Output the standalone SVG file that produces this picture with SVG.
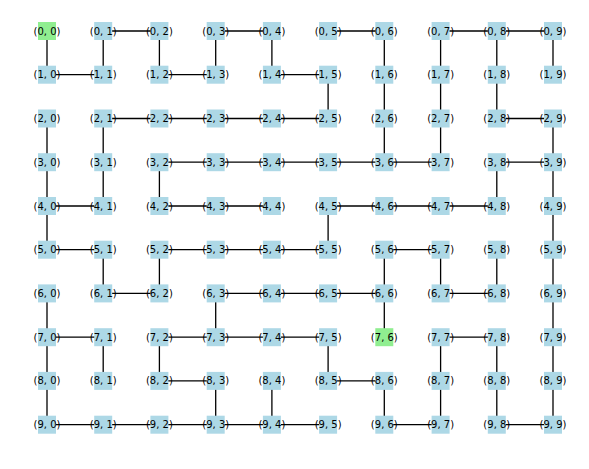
<svg xmlns="http://www.w3.org/2000/svg" width="589" height="469" viewBox="0 0 589 469">
<style>
.e line{stroke:#000;stroke-width:1.3}
.n rect{fill:#add8e6}
.n.g rect{fill:#90ee90}
.n text{font-family:"DejaVu Sans",sans-serif;font-size:10px;fill:#000;text-anchor:middle;dominant-baseline:central}
</style>
<rect width="589" height="469" fill="#fff"/>
<g id="edges" class="e">
<line x1="103.2" y1="31" x2="159.4" y2="31"/><line x1="215.7" y1="31" x2="271.9" y2="31"/><line x1="328.1" y1="31" x2="384.3" y2="31"/><line x1="440.6" y1="31" x2="496.8" y2="31"/><line x1="496.8" y1="31" x2="553" y2="31"/>
<line x1="47" y1="74.7" x2="103.2" y2="74.7"/><line x1="159.4" y1="74.7" x2="215.7" y2="74.7"/><line x1="271.9" y1="74.7" x2="328.1" y2="74.7"/>
<line x1="103.2" y1="118.5" x2="159.4" y2="118.5"/><line x1="159.4" y1="118.5" x2="215.7" y2="118.5"/><line x1="215.7" y1="118.5" x2="271.9" y2="118.5"/><line x1="271.9" y1="118.5" x2="328.1" y2="118.5"/><line x1="496.8" y1="118.5" x2="553" y2="118.5"/>
<line x1="159.4" y1="162.2" x2="215.7" y2="162.2"/><line x1="215.7" y1="162.2" x2="271.9" y2="162.2"/><line x1="271.9" y1="162.2" x2="328.1" y2="162.2"/><line x1="328.1" y1="162.2" x2="384.3" y2="162.2"/><line x1="384.3" y1="162.2" x2="440.6" y2="162.2"/><line x1="496.8" y1="162.2" x2="553" y2="162.2"/>
<line x1="47" y1="206" x2="103.2" y2="206"/><line x1="159.4" y1="206" x2="215.7" y2="206"/><line x1="215.7" y1="206" x2="271.9" y2="206"/><line x1="328.1" y1="206" x2="384.3" y2="206"/><line x1="384.3" y1="206" x2="440.6" y2="206"/><line x1="440.6" y1="206" x2="496.8" y2="206"/>
<line x1="47" y1="249.7" x2="103.2" y2="249.7"/><line x1="159.4" y1="249.7" x2="215.7" y2="249.7"/><line x1="215.7" y1="249.7" x2="271.9" y2="249.7"/><line x1="271.9" y1="249.7" x2="328.1" y2="249.7"/><line x1="384.3" y1="249.7" x2="440.6" y2="249.7"/>
<line x1="103.2" y1="293.4" x2="159.4" y2="293.4"/><line x1="215.7" y1="293.4" x2="271.9" y2="293.4"/><line x1="271.9" y1="293.4" x2="328.1" y2="293.4"/><line x1="328.1" y1="293.4" x2="384.3" y2="293.4"/><line x1="440.6" y1="293.4" x2="496.8" y2="293.4"/>
<line x1="47" y1="337.2" x2="103.2" y2="337.2"/><line x1="159.4" y1="337.2" x2="215.7" y2="337.2"/><line x1="215.7" y1="337.2" x2="271.9" y2="337.2"/><line x1="271.9" y1="337.2" x2="328.1" y2="337.2"/><line x1="440.6" y1="337.2" x2="496.8" y2="337.2"/>
<line x1="159.4" y1="380.9" x2="215.7" y2="380.9"/><line x1="328.1" y1="380.9" x2="384.3" y2="380.9"/>
<line x1="47" y1="424.7" x2="103.2" y2="424.7"/><line x1="103.2" y1="424.7" x2="159.4" y2="424.7"/><line x1="159.4" y1="424.7" x2="215.7" y2="424.7"/><line x1="215.7" y1="424.7" x2="271.9" y2="424.7"/><line x1="271.9" y1="424.7" x2="328.1" y2="424.7"/><line x1="384.3" y1="424.7" x2="440.6" y2="424.7"/><line x1="496.8" y1="424.7" x2="553" y2="424.7"/>
<line x1="47" y1="31" x2="47" y2="74.7"/><line x1="47" y1="118.5" x2="47" y2="162.2"/><line x1="47" y1="162.2" x2="47" y2="206"/><line x1="47" y1="206" x2="47" y2="249.7"/><line x1="47" y1="293.4" x2="47" y2="337.2"/><line x1="47" y1="337.2" x2="47" y2="380.9"/><line x1="47" y1="380.9" x2="47" y2="424.7"/>
<line x1="103.2" y1="31" x2="103.2" y2="74.7"/><line x1="103.2" y1="118.5" x2="103.2" y2="162.2"/><line x1="103.2" y1="162.2" x2="103.2" y2="206"/><line x1="103.2" y1="249.7" x2="103.2" y2="293.4"/><line x1="103.2" y1="337.2" x2="103.2" y2="380.9"/>
<line x1="159.4" y1="31" x2="159.4" y2="74.7"/><line x1="159.4" y1="162.2" x2="159.4" y2="206"/><line x1="159.4" y1="249.7" x2="159.4" y2="293.4"/><line x1="159.4" y1="337.2" x2="159.4" y2="380.9"/>
<line x1="215.7" y1="31" x2="215.7" y2="74.7"/><line x1="215.7" y1="293.4" x2="215.7" y2="337.2"/><line x1="215.7" y1="380.9" x2="215.7" y2="424.7"/>
<line x1="271.9" y1="31" x2="271.9" y2="74.7"/><line x1="271.9" y1="380.9" x2="271.9" y2="424.7"/>
<line x1="328.1" y1="74.7" x2="328.1" y2="118.5"/><line x1="328.1" y1="206" x2="328.1" y2="249.7"/><line x1="328.1" y1="337.2" x2="328.1" y2="380.9"/>
<line x1="384.3" y1="31" x2="384.3" y2="74.7"/><line x1="384.3" y1="74.7" x2="384.3" y2="118.5"/><line x1="384.3" y1="118.5" x2="384.3" y2="162.2"/><line x1="384.3" y1="249.7" x2="384.3" y2="293.4"/><line x1="384.3" y1="293.4" x2="384.3" y2="337.2"/><line x1="384.3" y1="380.9" x2="384.3" y2="424.7"/>
<line x1="440.6" y1="31" x2="440.6" y2="74.7"/><line x1="440.6" y1="74.7" x2="440.6" y2="118.5"/><line x1="440.6" y1="118.5" x2="440.6" y2="162.2"/><line x1="440.6" y1="249.7" x2="440.6" y2="293.4"/><line x1="440.6" y1="337.2" x2="440.6" y2="380.9"/><line x1="440.6" y1="380.9" x2="440.6" y2="424.7"/>
<line x1="496.8" y1="31" x2="496.8" y2="74.7"/><line x1="496.8" y1="74.7" x2="496.8" y2="118.5"/><line x1="496.8" y1="162.2" x2="496.8" y2="206"/><line x1="496.8" y1="249.7" x2="496.8" y2="293.4"/><line x1="496.8" y1="337.2" x2="496.8" y2="380.9"/><line x1="496.8" y1="380.9" x2="496.8" y2="424.7"/>
<line x1="553" y1="31" x2="553" y2="74.7"/><line x1="553" y1="118.5" x2="553" y2="162.2"/><line x1="553" y1="162.2" x2="553" y2="206"/><line x1="553" y1="206" x2="553" y2="249.7"/><line x1="553" y1="249.7" x2="553" y2="293.4"/><line x1="553" y1="293.4" x2="553" y2="337.2"/><line x1="553" y1="337.2" x2="553" y2="380.9"/><line x1="553" y1="380.9" x2="553" y2="424.7"/>
</g>
<g id="n0-0" class="n g" transform="translate(47,31)"><rect x="-9" y="-9" width="18" height="18"/><text>(0, 0)</text></g>
<g id="n0-1" class="n" transform="translate(103.2,31)"><rect x="-9" y="-9" width="18" height="18"/><text>(0, 1)</text></g>
<g id="n0-2" class="n" transform="translate(159.4,31)"><rect x="-9" y="-9" width="18" height="18"/><text>(0, 2)</text></g>
<g id="n0-3" class="n" transform="translate(215.7,31)"><rect x="-9" y="-9" width="18" height="18"/><text>(0, 3)</text></g>
<g id="n0-4" class="n" transform="translate(271.9,31)"><rect x="-9" y="-9" width="18" height="18"/><text>(0, 4)</text></g>
<g id="n0-5" class="n" transform="translate(328.1,31)"><rect x="-9" y="-9" width="18" height="18"/><text>(0, 5)</text></g>
<g id="n0-6" class="n" transform="translate(384.3,31)"><rect x="-9" y="-9" width="18" height="18"/><text>(0, 6)</text></g>
<g id="n0-7" class="n" transform="translate(440.6,31)"><rect x="-9" y="-9" width="18" height="18"/><text>(0, 7)</text></g>
<g id="n0-8" class="n" transform="translate(496.8,31)"><rect x="-9" y="-9" width="18" height="18"/><text>(0, 8)</text></g>
<g id="n0-9" class="n" transform="translate(553,31)"><rect x="-9" y="-9" width="18" height="18"/><text>(0, 9)</text></g>
<g id="n1-0" class="n" transform="translate(47,74.7)"><rect x="-9" y="-9" width="18" height="18"/><text>(1, 0)</text></g>
<g id="n1-1" class="n" transform="translate(103.2,74.7)"><rect x="-9" y="-9" width="18" height="18"/><text>(1, 1)</text></g>
<g id="n1-2" class="n" transform="translate(159.4,74.7)"><rect x="-9" y="-9" width="18" height="18"/><text>(1, 2)</text></g>
<g id="n1-3" class="n" transform="translate(215.7,74.7)"><rect x="-9" y="-9" width="18" height="18"/><text>(1, 3)</text></g>
<g id="n1-4" class="n" transform="translate(271.9,74.7)"><rect x="-9" y="-9" width="18" height="18"/><text>(1, 4)</text></g>
<g id="n1-5" class="n" transform="translate(328.1,74.7)"><rect x="-9" y="-9" width="18" height="18"/><text>(1, 5)</text></g>
<g id="n1-6" class="n" transform="translate(384.3,74.7)"><rect x="-9" y="-9" width="18" height="18"/><text>(1, 6)</text></g>
<g id="n1-7" class="n" transform="translate(440.6,74.7)"><rect x="-9" y="-9" width="18" height="18"/><text>(1, 7)</text></g>
<g id="n1-8" class="n" transform="translate(496.8,74.7)"><rect x="-9" y="-9" width="18" height="18"/><text>(1, 8)</text></g>
<g id="n1-9" class="n" transform="translate(553,74.7)"><rect x="-9" y="-9" width="18" height="18"/><text>(1, 9)</text></g>
<g id="n2-0" class="n" transform="translate(47,118.5)"><rect x="-9" y="-9" width="18" height="18"/><text>(2, 0)</text></g>
<g id="n2-1" class="n" transform="translate(103.2,118.5)"><rect x="-9" y="-9" width="18" height="18"/><text>(2, 1)</text></g>
<g id="n2-2" class="n" transform="translate(159.4,118.5)"><rect x="-9" y="-9" width="18" height="18"/><text>(2, 2)</text></g>
<g id="n2-3" class="n" transform="translate(215.7,118.5)"><rect x="-9" y="-9" width="18" height="18"/><text>(2, 3)</text></g>
<g id="n2-4" class="n" transform="translate(271.9,118.5)"><rect x="-9" y="-9" width="18" height="18"/><text>(2, 4)</text></g>
<g id="n2-5" class="n" transform="translate(328.1,118.5)"><rect x="-9" y="-9" width="18" height="18"/><text>(2, 5)</text></g>
<g id="n2-6" class="n" transform="translate(384.3,118.5)"><rect x="-9" y="-9" width="18" height="18"/><text>(2, 6)</text></g>
<g id="n2-7" class="n" transform="translate(440.6,118.5)"><rect x="-9" y="-9" width="18" height="18"/><text>(2, 7)</text></g>
<g id="n2-8" class="n" transform="translate(496.8,118.5)"><rect x="-9" y="-9" width="18" height="18"/><text>(2, 8)</text></g>
<g id="n2-9" class="n" transform="translate(553,118.5)"><rect x="-9" y="-9" width="18" height="18"/><text>(2, 9)</text></g>
<g id="n3-0" class="n" transform="translate(47,162.2)"><rect x="-9" y="-9" width="18" height="18"/><text>(3, 0)</text></g>
<g id="n3-1" class="n" transform="translate(103.2,162.2)"><rect x="-9" y="-9" width="18" height="18"/><text>(3, 1)</text></g>
<g id="n3-2" class="n" transform="translate(159.4,162.2)"><rect x="-9" y="-9" width="18" height="18"/><text>(3, 2)</text></g>
<g id="n3-3" class="n" transform="translate(215.7,162.2)"><rect x="-9" y="-9" width="18" height="18"/><text>(3, 3)</text></g>
<g id="n3-4" class="n" transform="translate(271.9,162.2)"><rect x="-9" y="-9" width="18" height="18"/><text>(3, 4)</text></g>
<g id="n3-5" class="n" transform="translate(328.1,162.2)"><rect x="-9" y="-9" width="18" height="18"/><text>(3, 5)</text></g>
<g id="n3-6" class="n" transform="translate(384.3,162.2)"><rect x="-9" y="-9" width="18" height="18"/><text>(3, 6)</text></g>
<g id="n3-7" class="n" transform="translate(440.6,162.2)"><rect x="-9" y="-9" width="18" height="18"/><text>(3, 7)</text></g>
<g id="n3-8" class="n" transform="translate(496.8,162.2)"><rect x="-9" y="-9" width="18" height="18"/><text>(3, 8)</text></g>
<g id="n3-9" class="n" transform="translate(553,162.2)"><rect x="-9" y="-9" width="18" height="18"/><text>(3, 9)</text></g>
<g id="n4-0" class="n" transform="translate(47,206)"><rect x="-9" y="-9" width="18" height="18"/><text>(4, 0)</text></g>
<g id="n4-1" class="n" transform="translate(103.2,206)"><rect x="-9" y="-9" width="18" height="18"/><text>(4, 1)</text></g>
<g id="n4-2" class="n" transform="translate(159.4,206)"><rect x="-9" y="-9" width="18" height="18"/><text>(4, 2)</text></g>
<g id="n4-3" class="n" transform="translate(215.7,206)"><rect x="-9" y="-9" width="18" height="18"/><text>(4, 3)</text></g>
<g id="n4-4" class="n" transform="translate(271.9,206)"><rect x="-9" y="-9" width="18" height="18"/><text>(4, 4)</text></g>
<g id="n4-5" class="n" transform="translate(328.1,206)"><rect x="-9" y="-9" width="18" height="18"/><text>(4, 5)</text></g>
<g id="n4-6" class="n" transform="translate(384.3,206)"><rect x="-9" y="-9" width="18" height="18"/><text>(4, 6)</text></g>
<g id="n4-7" class="n" transform="translate(440.6,206)"><rect x="-9" y="-9" width="18" height="18"/><text>(4, 7)</text></g>
<g id="n4-8" class="n" transform="translate(496.8,206)"><rect x="-9" y="-9" width="18" height="18"/><text>(4, 8)</text></g>
<g id="n4-9" class="n" transform="translate(553,206)"><rect x="-9" y="-9" width="18" height="18"/><text>(4, 9)</text></g>
<g id="n5-0" class="n" transform="translate(47,249.7)"><rect x="-9" y="-9" width="18" height="18"/><text>(5, 0)</text></g>
<g id="n5-1" class="n" transform="translate(103.2,249.7)"><rect x="-9" y="-9" width="18" height="18"/><text>(5, 1)</text></g>
<g id="n5-2" class="n" transform="translate(159.4,249.7)"><rect x="-9" y="-9" width="18" height="18"/><text>(5, 2)</text></g>
<g id="n5-3" class="n" transform="translate(215.7,249.7)"><rect x="-9" y="-9" width="18" height="18"/><text>(5, 3)</text></g>
<g id="n5-4" class="n" transform="translate(271.9,249.7)"><rect x="-9" y="-9" width="18" height="18"/><text>(5, 4)</text></g>
<g id="n5-5" class="n" transform="translate(328.1,249.7)"><rect x="-9" y="-9" width="18" height="18"/><text>(5, 5)</text></g>
<g id="n5-6" class="n" transform="translate(384.3,249.7)"><rect x="-9" y="-9" width="18" height="18"/><text>(5, 6)</text></g>
<g id="n5-7" class="n" transform="translate(440.6,249.7)"><rect x="-9" y="-9" width="18" height="18"/><text>(5, 7)</text></g>
<g id="n5-8" class="n" transform="translate(496.8,249.7)"><rect x="-9" y="-9" width="18" height="18"/><text>(5, 8)</text></g>
<g id="n5-9" class="n" transform="translate(553,249.7)"><rect x="-9" y="-9" width="18" height="18"/><text>(5, 9)</text></g>
<g id="n6-0" class="n" transform="translate(47,293.4)"><rect x="-9" y="-9" width="18" height="18"/><text>(6, 0)</text></g>
<g id="n6-1" class="n" transform="translate(103.2,293.4)"><rect x="-9" y="-9" width="18" height="18"/><text>(6, 1)</text></g>
<g id="n6-2" class="n" transform="translate(159.4,293.4)"><rect x="-9" y="-9" width="18" height="18"/><text>(6, 2)</text></g>
<g id="n6-3" class="n" transform="translate(215.7,293.4)"><rect x="-9" y="-9" width="18" height="18"/><text>(6, 3)</text></g>
<g id="n6-4" class="n" transform="translate(271.9,293.4)"><rect x="-9" y="-9" width="18" height="18"/><text>(6, 4)</text></g>
<g id="n6-5" class="n" transform="translate(328.1,293.4)"><rect x="-9" y="-9" width="18" height="18"/><text>(6, 5)</text></g>
<g id="n6-6" class="n" transform="translate(384.3,293.4)"><rect x="-9" y="-9" width="18" height="18"/><text>(6, 6)</text></g>
<g id="n6-7" class="n" transform="translate(440.6,293.4)"><rect x="-9" y="-9" width="18" height="18"/><text>(6, 7)</text></g>
<g id="n6-8" class="n" transform="translate(496.8,293.4)"><rect x="-9" y="-9" width="18" height="18"/><text>(6, 8)</text></g>
<g id="n6-9" class="n" transform="translate(553,293.4)"><rect x="-9" y="-9" width="18" height="18"/><text>(6, 9)</text></g>
<g id="n7-0" class="n" transform="translate(47,337.2)"><rect x="-9" y="-9" width="18" height="18"/><text>(7, 0)</text></g>
<g id="n7-1" class="n" transform="translate(103.2,337.2)"><rect x="-9" y="-9" width="18" height="18"/><text>(7, 1)</text></g>
<g id="n7-2" class="n" transform="translate(159.4,337.2)"><rect x="-9" y="-9" width="18" height="18"/><text>(7, 2)</text></g>
<g id="n7-3" class="n" transform="translate(215.7,337.2)"><rect x="-9" y="-9" width="18" height="18"/><text>(7, 3)</text></g>
<g id="n7-4" class="n" transform="translate(271.9,337.2)"><rect x="-9" y="-9" width="18" height="18"/><text>(7, 4)</text></g>
<g id="n7-5" class="n" transform="translate(328.1,337.2)"><rect x="-9" y="-9" width="18" height="18"/><text>(7, 5)</text></g>
<g id="n7-6" class="n g" transform="translate(384.3,337.2)"><rect x="-9" y="-9" width="18" height="18"/><text>(7, 6)</text></g>
<g id="n7-7" class="n" transform="translate(440.6,337.2)"><rect x="-9" y="-9" width="18" height="18"/><text>(7, 7)</text></g>
<g id="n7-8" class="n" transform="translate(496.8,337.2)"><rect x="-9" y="-9" width="18" height="18"/><text>(7, 8)</text></g>
<g id="n7-9" class="n" transform="translate(553,337.2)"><rect x="-9" y="-9" width="18" height="18"/><text>(7, 9)</text></g>
<g id="n8-0" class="n" transform="translate(47,380.9)"><rect x="-9" y="-9" width="18" height="18"/><text>(8, 0)</text></g>
<g id="n8-1" class="n" transform="translate(103.2,380.9)"><rect x="-9" y="-9" width="18" height="18"/><text>(8, 1)</text></g>
<g id="n8-2" class="n" transform="translate(159.4,380.9)"><rect x="-9" y="-9" width="18" height="18"/><text>(8, 2)</text></g>
<g id="n8-3" class="n" transform="translate(215.7,380.9)"><rect x="-9" y="-9" width="18" height="18"/><text>(8, 3)</text></g>
<g id="n8-4" class="n" transform="translate(271.9,380.9)"><rect x="-9" y="-9" width="18" height="18"/><text>(8, 4)</text></g>
<g id="n8-5" class="n" transform="translate(328.1,380.9)"><rect x="-9" y="-9" width="18" height="18"/><text>(8, 5)</text></g>
<g id="n8-6" class="n" transform="translate(384.3,380.9)"><rect x="-9" y="-9" width="18" height="18"/><text>(8, 6)</text></g>
<g id="n8-7" class="n" transform="translate(440.6,380.9)"><rect x="-9" y="-9" width="18" height="18"/><text>(8, 7)</text></g>
<g id="n8-8" class="n" transform="translate(496.8,380.9)"><rect x="-9" y="-9" width="18" height="18"/><text>(8, 8)</text></g>
<g id="n8-9" class="n" transform="translate(553,380.9)"><rect x="-9" y="-9" width="18" height="18"/><text>(8, 9)</text></g>
<g id="n9-0" class="n" transform="translate(47,424.7)"><rect x="-9" y="-9" width="18" height="18"/><text>(9, 0)</text></g>
<g id="n9-1" class="n" transform="translate(103.2,424.7)"><rect x="-9" y="-9" width="18" height="18"/><text>(9, 1)</text></g>
<g id="n9-2" class="n" transform="translate(159.4,424.7)"><rect x="-9" y="-9" width="18" height="18"/><text>(9, 2)</text></g>
<g id="n9-3" class="n" transform="translate(215.7,424.7)"><rect x="-9" y="-9" width="18" height="18"/><text>(9, 3)</text></g>
<g id="n9-4" class="n" transform="translate(271.9,424.7)"><rect x="-9" y="-9" width="18" height="18"/><text>(9, 4)</text></g>
<g id="n9-5" class="n" transform="translate(328.1,424.7)"><rect x="-9" y="-9" width="18" height="18"/><text>(9, 5)</text></g>
<g id="n9-6" class="n" transform="translate(384.3,424.7)"><rect x="-9" y="-9" width="18" height="18"/><text>(9, 6)</text></g>
<g id="n9-7" class="n" transform="translate(440.6,424.7)"><rect x="-9" y="-9" width="18" height="18"/><text>(9, 7)</text></g>
<g id="n9-8" class="n" transform="translate(496.8,424.7)"><rect x="-9" y="-9" width="18" height="18"/><text>(9, 8)</text></g>
<g id="n9-9" class="n" transform="translate(553,424.7)"><rect x="-9" y="-9" width="18" height="18"/><text>(9, 9)</text></g>
</svg>
